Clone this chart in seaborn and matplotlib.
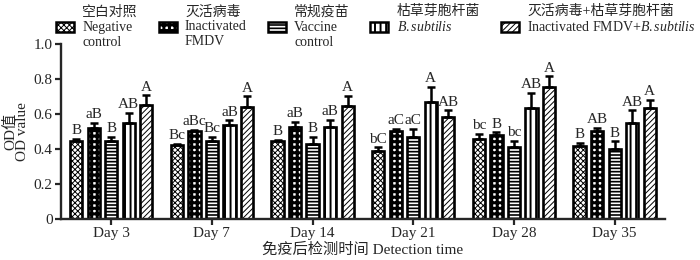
import numpy as np
import pandas as pd
import matplotlib
matplotlib.use('Agg')
import matplotlib.pyplot as plt
import seaborn as sns
from matplotlib.patches import Rectangle
from matplotlib.font_manager import FontProperties

# Datos
days = ['Day 3', 'Day 7', 'Day 14', 'Day 21', 'Day 28', 'Day 35']
groups = ['NC', 'IF', 'VC', 'BS', 'IFBS']

nc_mean = [0.448, 0.424, 0.446, 0.389, 0.456, 0.416]
nc_err = [0.010, 0.004, 0.005, 0.020, 0.030, 0.017]
if_mean = [0.519, 0.504, 0.527, 0.504, 0.479, 0.502]
if_err = [0.028, 0.005, 0.027, 0.010, 0.015, 0.020]
vc_mean = [0.448, 0.448, 0.429, 0.469, 0.410, 0.400]
vc_err = [0.022, 0.020, 0.040, 0.045, 0.036, 0.043]
bs_mean = [0.551, 0.534, 0.528, 0.666, 0.635, 0.549]
bs_err = [0.054, 0.029, 0.039, 0.088, 0.085, 0.071]
ifbs_mean = [0.652, 0.639, 0.645, 0.580, 0.754, 0.635]
ifbs_err = [0.054, 0.061, 0.059, 0.040, 0.061, 0.044]

# Letras de significancia
nc_sig = ['B', 'Bc', 'B', 'bC', 'bc', 'B']
if_sig = ['aB', 'aBc', 'aB', 'aC', 'B', 'AB']
vc_sig = ['B', 'Bc', 'B', 'aC', 'bc', 'B']
bs_sig = ['AB', 'aB', 'aB', 'A', 'AB', 'AB']
ifbs_sig = ['A', 'A', 'A', 'AB', 'A', 'A']

legend_labels = [
    '空白对照\nNegative\ncontrol',
    '灭活病毒\nInactivated\nFMDV',
    '常规疫苗\nVaccine\ncontrol',
    '枯草芽胞杆菌\n$\\mathit{B.subtilis}$\n ',
    '灭活病毒+枯草芽胞杆菌\nInactivated FMDV+$\\mathit{B.subtilis}$\n ',
]
hatches = ['xxxxxx', '+++', '-----', '|||', '//////']
hatch_lw = [0.7, 2.2, 1.2, 1.4, 0.7]

means = [nc_mean, if_mean, vc_mean, bs_mean, ifbs_mean]
errs = [nc_err, if_err, vc_err, bs_err, ifbs_err]
sigs = [nc_sig, if_sig, vc_sig, bs_sig, ifbs_sig]

df = pd.DataFrame({
    'day': np.tile(days, len(groups)),
    'group': np.repeat(groups, len(days)),
    'od': np.concatenate(means),
})

sns.set_style('ticks')
fam = ['Liberation Serif', 'Noto Sans CJK SC']
plt.rcParams['font.family'] = fam
plt.rcParams['mathtext.fontset'] = 'custom'
plt.rcParams['mathtext.rm'] = 'Liberation Serif'
plt.rcParams['mathtext.it'] = 'Liberation Serif:italic'
plt.rcParams['hatch.linewidth'] = 1.0
plt.rcParams['axes.linewidth'] = 1.7

fs = 11

fig = plt.figure(figsize=(7, 2.6), dpi=100)
ax = fig.add_axes([0.087, 0.158, 0.863, 0.673])

sns.barplot(data=df, x='day', y='od', hue='group', order=days, hue_order=groups,
            palette=['white'] * 5, edgecolor='black', linewidth=1.9,
            width=0.87, gap=0.3, errorbar=None, legend=False, ax=ax)


def set_pattern(patch, h, lw):
    patch.set_hatch(h)
    if hasattr(patch, 'set_hatch_linewidth'):
        patch.set_hatch_linewidth(lw)


for cont, h, hl, m, e, s in zip(ax.containers, hatches, hatch_lw, means, errs, sigs):
    xs = []
    for bar in cont:
        set_pattern(bar, h, hl)
        xs.append(bar.get_x() + bar.get_width() / 2)
    ax.errorbar(xs, m, yerr=[np.zeros(len(m)), e], fmt='none', ecolor='black',
                elinewidth=1.8, capsize=3.2, capthick=1.8, zorder=5)
    for x, y, err, lab in zip(xs, m, e, s):
        ax.text(x, y + err + 0.01, lab, ha='center', va='bottom', fontsize=fs)

ax.set_xlim(-0.5, 5.5)
ax.set_ylim(0, 1.0)
ax.set_yticks([0, 0.2, 0.4, 0.6, 0.8, 1.0])
ax.set_yticklabels(['0', '0.2', '0.4', '0.6', '0.8', '1.0'])
ax.tick_params(axis='both', labelsize=fs, width=1.6, length=4, direction='out', pad=2)
ax.set_xlabel('免疫后检测时间 Detection time', fontsize=fs, labelpad=2)
ax.set_ylabel('OD值\nOD value', fontsize=fs, labelpad=3, linespacing=0.95)
sns.despine(ax=ax)

handles = []
for h, hl in zip(hatches, hatch_lw):
    r = Rectangle((0, 0), 1, 1, facecolor='white', edgecolor='black', linewidth=1.8)
    set_pattern(r, h, hl)
    handles.append(r)
leg = fig.legend(handles, legend_labels, loc='upper left', bbox_to_anchor=(0.062, 1.03),
                 ncol=5, frameon=False, prop=FontProperties(family=fam, size=10),
                 handlelength=1.3, handleheight=0.65, handletextpad=0.6,
                 columnspacing=1.5, labelspacing=0.2)
for lh, h, hl in zip(leg.legend_handles, hatches, hatch_lw):
    set_pattern(lh, h, hl)

fig.savefig('out.png', dpi=100)
